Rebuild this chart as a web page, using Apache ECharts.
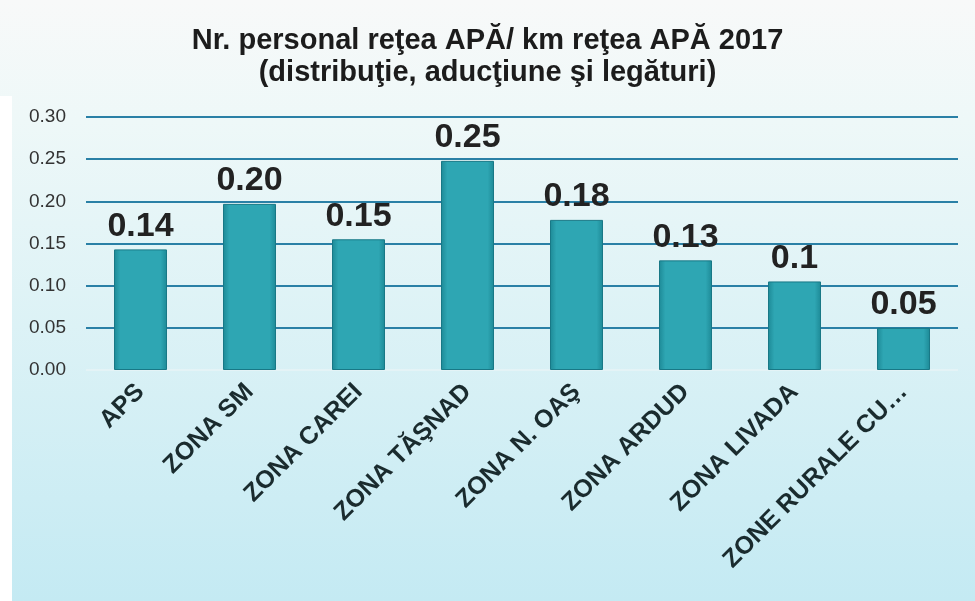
<!DOCTYPE html>
<html>
<head>
<meta charset="utf-8">
<script src="https://cdn.jsdelivr.net/npm/echarts@6/dist/echarts.min.js"></script>
<style>
  html, body { margin: 0; padding: 0; background: #ffffff; }
  #chart { width: 975px; height: 601px; }
</style>
</head>
<body>
<div id="chart"></div>
<script>
// data
const categories = [
  "APS", "ZONA SM", "ZONA CAREI", "ZONA TĂŞNAD",
  "ZONA N. OAŞ", "ZONA ARDUD", "ZONA LIVADA", "ZONE RURALE CU…"
];
const values = [0.143, 0.197, 0.155, 0.248, 0.178, 0.13, 0.105, 0.05];
const valueLabels = ["0.14", "0.20", "0.15", "0.25", "0.18", "0.13", "0.1", "0.05"];
const yTicks = [0, 0.05, 0.1, 0.15, 0.2, 0.25, 0.3];

const sans = "'Liberation Sans', Arial, sans-serif";

const chart = echarts.init(document.getElementById("chart"), null, { renderer: "canvas" });

const barColor = new echarts.graphic.LinearGradient(0, 0, 1, 0, [
  { offset: 0, color: "#1d8996" },
  { offset: 0.12, color: "#2ea6b3" },
  { offset: 0.88, color: "#2ea6b3" },
  { offset: 1, color: "#1d8996" }
]);

const option = {
  backgroundColor: new echarts.graphic.LinearGradient(0, 0, 0, 1, [
    { offset: 0, color: "#f8f9f9" },
    { offset: 0.2, color: "#eef8f8" },
    { offset: 1, color: "#c4eaf3" }
  ]),
  title: {
    text: "Nr. personal reţea APĂ/ km reţea APĂ 2017\n(distribuţie, aducţiune şi legături)",
    left: "center",
    top: 20,
    textStyle: {
      fontFamily: sans,
      fontSize: 29,
      fontWeight: "bold",
      color: "#1c1c1c",
      lineHeight: 32
    }
  },
  graphic: [
    { type: "rect", shape: { x: 0, y: 96, width: 12, height: 505 }, style: { fill: "#ffffff" } }
  ],
  grid: { left: 86, right: 17, top: 117, bottom: 231, containLabel: false },
  xAxis: {
    type: "category",
    data: categories,
    axisLine: { show: false },
    axisTick: { show: false },
    axisLabel: {
      interval: 0,
      rotate: 45,
      margin: 18,
      fontFamily: sans,
      fontSize: 25,
      fontWeight: "bold",
      color: "#1a2b2e"
    }
  },
  yAxis: {
    type: "value",
    min: 0,
    max: 0.3,
    interval: 0.05,
    axisLine: { show: false },
    axisTick: { show: false },
    axisLabel: {
      margin: 20,
      fontFamily: sans,
      fontSize: 19,
      color: "#333333",
      formatter: (v) => yTicks.includes(+v.toFixed(2)) ? v.toFixed(2) : ""
    },
    splitLine: {
      lineStyle: {
        width: 2,
        color: ["#e4f3f6", "#2a80a6", "#2a80a6", "#2a80a6", "#2a80a6", "#2a80a6", "#2a80a6"]
      }
    }
  },
  series: [
    {
      type: "bar",
      data: values,
      barWidth: 53,
      itemStyle: {
        color: barColor,
        borderColor: "#187886",
        borderWidth: 1
      },
      label: {
        show: true,
        position: "top",
        distance: 6,
        formatter: (p) => valueLabels[p.dataIndex],
        fontFamily: sans,
        fontSize: 34,
        fontWeight: "bold",
        color: "#222222"
      }
    }
  ]
};

chart.setOption(option);
</script>
</body>
</html>
